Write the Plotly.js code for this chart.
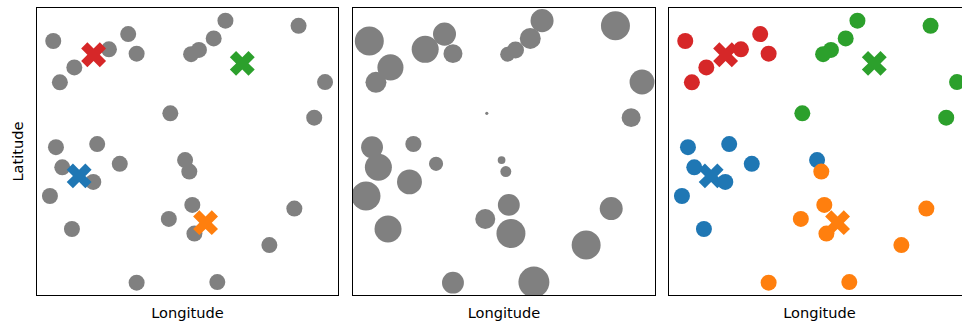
<!DOCTYPE html>
<html>
<head>
<meta charset="utf-8">
<script src="https://cdn.plot.ly/plotly-3.0.1.min.js"></script>
<style>
  html, body { margin: 0; padding: 0; overflow: hidden; background: #fff; }
  #chart { width: 972px; height: 326px; }
</style>
</head>
<body>
<div id="chart"></div>
<script>
// Point locations (arbitrary units, 0-100 on each axis)
const longitude = [5.4, 30.3, 23.9, 33.1, 12.4, 7.6, 62.6, 58.7, 53.8, 51.2,
                   86.9, 95.7, 44.3, 92.1, 6.3, 20.0, 8.4, 27.5, 49.2, 50.6,
                   18.7, 4.3, 51.6, 43.8, 85.5, 11.6, 52.3, 77.2, 33.1, 59.9];
const latitude  = [88.5, 90.9, 85.6, 84.1, 79.3, 74.1, 95.6, 89.4, 85.4, 83.9,
                   93.8, 74.2, 63.3, 61.8, 51.5, 52.6, 44.5, 45.7, 47.0, 43.0,
                   39.4, 34.5, 31.4, 26.5, 30.1, 23.0, 21.4, 17.4, 4.3, 4.5];
// Weight of each point (drives bubble area in the middle panel)
const weight    = [84, 53, 73, 36, 68, 44, 53, 44, 29, 22,
                   84, 62, 1, 36, 48, 26, 73, 20, 6, 12,
                   62, 84, 48, 40, 53, 73, 84, 84, 48, 96];
// Cluster assignment of each point
const cluster   = [3, 3, 3, 3, 3, 3, 2, 2, 2, 2,
                   2, 2, 2, 2, 0, 0, 0, 0, 0, 1,
                   0, 0, 1, 1, 1, 0, 1, 1, 1, 1];
// Cluster centres
const centerLon = [14.0, 56.0, 68.2, 18.8];
const centerLat = [41.5, 25.2, 80.7, 83.7];
const clusterColors = ['#1f77b4', '#ff7f0e', '#2ca02c', '#d62728'];
const gray = '#808080';

const traces = [];
// Panel 1: gray points + centres
traces.push({
  type: 'scatter', mode: 'markers', x: longitude, y: latitude,
  xaxis: 'x', yaxis: 'y',
  marker: { color: gray, size: 16, opacity: 1, line: { width: 0 } },
  hoverinfo: 'skip', showlegend: false
});
traces.push({
  type: 'scatter', mode: 'markers', x: centerLon, y: centerLat,
  xaxis: 'x', yaxis: 'y',
  marker: { color: clusterColors, size: 22, symbol: 'x', opacity: 1, line: { width: 0 } },
  hoverinfo: 'skip', showlegend: false
});
// Panel 2: bubbles sized by weight
traces.push({
  type: 'scatter', mode: 'markers', x: longitude, y: latitude,
  xaxis: 'x2', yaxis: 'y2',
  marker: { color: gray, size: weight, sizemode: 'area', sizeref: 0.2, opacity: 1, line: { width: 0 } },
  hoverinfo: 'skip', showlegend: false
});
// Panel 3: points coloured by cluster + centres
traces.push({
  type: 'scatter', mode: 'markers', x: centerLon, y: centerLat,
  xaxis: 'x3', yaxis: 'y3',
  marker: { color: clusterColors, size: 22, symbol: 'x', opacity: 1, line: { width: 0 } },
  hoverinfo: 'skip', showlegend: false
});
traces.push({
  type: 'scatter', mode: 'markers', x: longitude, y: latitude,
  xaxis: 'x3', yaxis: 'y3',
  marker: { color: cluster.map(c => clusterColors[c]), size: 16, opacity: 1, line: { width: 0 } },
  hoverinfo: 'skip', showlegend: false
});

const plotW = 933;
const axBase = {
  range: [0, 100], showline: true, mirror: true, linecolor: '#000', linewidth: 1,
  showgrid: false, zeroline: false, showticklabels: false, ticks: '', fixedrange: true
};
const font = { family: 'DejaVu Sans', size: 14.6, color: '#000' };
function xax(d0, d1, anchor) {
  return Object.assign({}, axBase, {
    domain: [d0 / plotW, d1 / plotW], anchor: anchor,
    title: { text: 'Longitude', font: font, standoff: 12 }
  });
}
function yax(anchor, withTitle) {
  const a = Object.assign({}, axBase, { domain: [0, 1], anchor: anchor });
  if (withTitle) a.title = { text: 'Latitude', font: font, standoff: 8 };
  return a;
}

const layout = {
  width: 972, height: 326,
  margin: { l: 37, r: 2, t: 8, b: 31 },
  paper_bgcolor: '#fff', plot_bgcolor: '#fff',
  font: font,
  showlegend: false,
  xaxis: xax(0, 301, 'y'),
  yaxis: yax('x', true),
  xaxis2: xax(316, 618, 'y2'),
  yaxis2: yax('x2', false),
  xaxis3: xax(632, 933, 'y3'),
  yaxis3: yax('x3', false)
};

Plotly.newPlot('chart', traces, layout, { displayModeBar: false, staticPlot: true });
</script>
</body>
</html>
